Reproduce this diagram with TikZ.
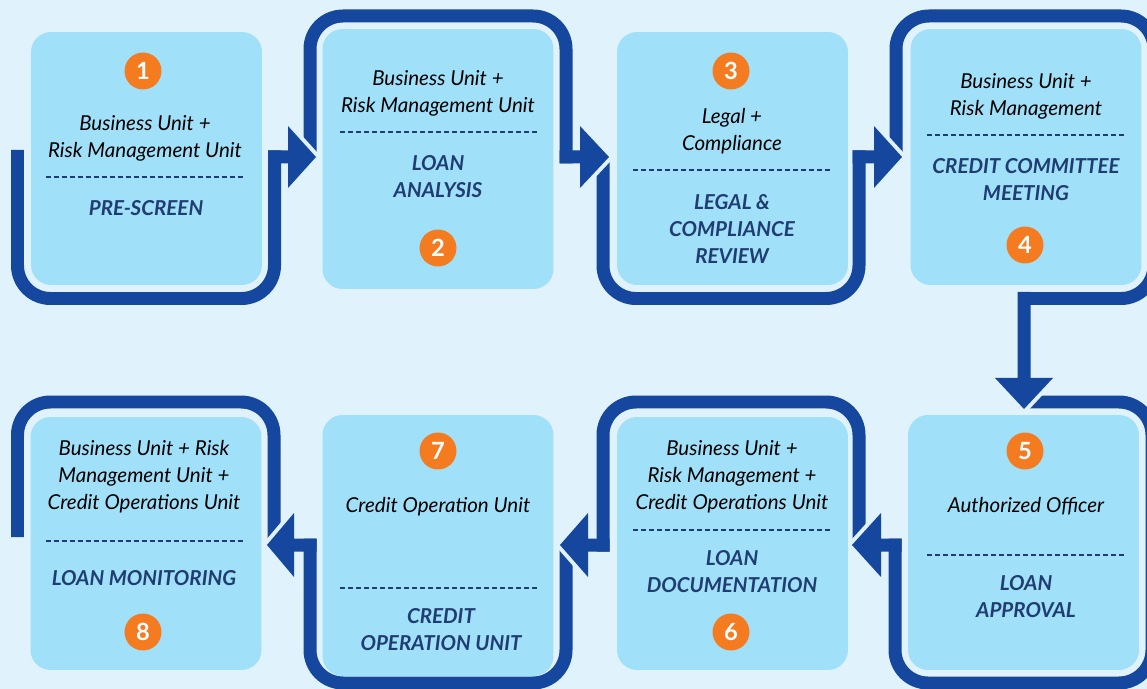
\documentclass[tikz,border=0pt]{standalone}
\usepackage{fontspec}
\setmainfont{Lato}
\usepackage{xcolor}
\usepackage{tikz}
\usetikzlibrary{calc}
\definecolor{bgblue}{HTML}{E0F2FC}
\definecolor{boxblue}{HTML}{A1E0F9}
\definecolor{framblue}{HTML}{15479E}
\definecolor{labblue}{HTML}{1F3D72}
\definecolor{numorange}{HTML}{F47B20}

\begin{document}
\begin{tikzpicture}[x=0.02cm,y=-0.02cm,
	box/.style={fill=boxblue,rounded corners=0.4cm,minimum width=4.62cm,minimum height=5.06cm,inner sep=0pt},
	frame/.style={draw=framblue,line width=0.26cm,rounded corners=0.66cm},
	gap/.style={draw=bgblue,line width=0.16cm,line join=round},
	head/.style={fill=framblue},
	who/.style={align=center,font=\itshape\fontsize{11.7}{15.3}\selectfont},
	what/.style={align=center,text=labblue,font=\bfseries\itshape\fontsize{11.7}{15.3}\selectfont},
	sep/.style={draw=labblue,line width=0.04cm,dash pattern=on 0.1cm off 0.06cm},
	num/.style={circle,fill=numorange,text=white,minimum size=0.74cm,inner sep=0pt,font=\bfseries\fontsize{13.5}{14}\selectfont}]
	\path[use as bounding box] (0,0) rectangle (1147,689);
	\clip (0,0) rectangle (1147,689);
	\fill[bgblue] (0,0) rectangle (1147,689);
	% boxes
	\node[box] (b1) at (146.5,158.5) {};
	\node[box,minimum height=5.2cm] (b2) at (438,159) {};
	\node[box] (b3) at (732.5,158.5) {};
	\node[box,minimum height=5.12cm] (b4) at (1026,157) {};
	\node[box,minimum height=5.1cm] (b5) at (1023.5,542.5) {};
	\node[box] (b6) at (732.5,543.5) {};
	\node[box,minimum height=5.22cm] (b7) at (438,545.5) {};
	\node[box] (b8) at (146,543.5) {};
	% frames
	\draw[frame] (17.5,150) -- (17.5,298.5) -- (274.5,298.5) -- (274.5,150.5);
	\draw[frame] (310,157) -- (310,16) -- (566,16) -- (566,163.5);
	\draw[frame] (603,157) -- (603,298.5) -- (859,298.5) -- (859,150.5);
	\draw[frame] (896,157) -- (896,16) -- (1154,16) -- (1154,298.5) -- (1024,298.5);
	\draw[frame] (1024,402) -- (1152,402) -- (1152,683) -- (895,683) -- (895,538.5);
	\draw[frame] (859,545) -- (859,402) -- (603,402) -- (603,551.5);
	\draw[frame] (566,545) -- (566,683) -- (310,683) -- (310,538.5);
	\draw[frame] (274,545) -- (274,402) -- (17.5,402) -- (17.5,537);
	% gaps round the heads
	\draw[gap] (288,126) -- (316,157) -- (288,188);
	\draw[gap] (580,126) -- (609,157) -- (580,188);
	\draw[gap] (874,126) -- (902,157) -- (874,188);
	\draw[gap] (1053,378) -- (1024,409) -- (995,378);
	\draw[gap] (881,513) -- (852,545) -- (881,577);
	\draw[gap] (588,513) -- (560,545) -- (588,577);
	\draw[gap] (294,513) -- (267,545) -- (294,577);
	% heads
	\fill[head] (268,150.5) -- (288,150.5) -- (288,126) -- (316,157) -- (288,188) -- (288,163.5) -- (268,163.5) -- cycle;
	\fill[head] (559.5,150.5) -- (580,150.5) -- (580,126) -- (609,157) -- (580,188) -- (580,163.5) -- (559.5,163.5) -- cycle;
	\fill[head] (852.5,150.5) -- (874,150.5) -- (874,126) -- (902,157) -- (874,188) -- (874,163.5) -- (852.5,163.5) -- cycle;
	\fill[head] (1017.5,292) -- (1030.5,292) -- (1030.5,378) -- (1053,378) -- (1024,409) -- (995,378) -- (1017.5,378) -- cycle;
	\fill[head] (901.5,538.5) -- (881,538.5) -- (881,513) -- (852,545) -- (881,577) -- (881,551.5) -- (901.5,551.5) -- cycle;
	\fill[head] (609.5,538.5) -- (588,538.5) -- (588,513) -- (560,545) -- (588,577) -- (588,551.5) -- (609.5,551.5) -- cycle;
	\fill[head] (316.5,538.5) -- (294,538.5) -- (294,513) -- (267,545) -- (294,577) -- (294,551.5) -- (316.5,551.5) -- cycle;
	% step 1
	\node[num] (n1) at (143,71) {1};
	\node[who] (w1) at (145,138) {Business Unit +\\Risk Management Unit};
	\draw[sep] (46,177) -- (244,177);
	\node[what] (t1) at (146,208.5) {PRE-SCREEN};
	% step 2
	\node[who] (w2) at (438,93) {Business Unit +\\Risk Management Unit};
	\draw[sep] (340,132) -- (538,132);
	\node[what] (t2) at (438,177) {LOAN\\ANALYSIS};
	\node[num] (n2) at (438,248) {2};
	% step 3
	\node[num] (n3) at (731,71) {3};
	\node[who] (w3) at (732,131) {Legal +\\Compliance};
	\draw[sep] (633,170) -- (831,170);
	\node[what] (t3) at (732,229) {LEGAL \&\\COMPLIANCE\\REVIEW};
	% step 4
	\node[who] (w4) at (1026,96) {Business Unit +\\Risk Management};
	\draw[sep] (927,135) -- (1125,135);
	\node[what] (t4) at (1026,180) {CREDIT COMMITTEE\\MEETING};
	\node[num] (n4) at (1025,245) {4};
	% step 5
	\node[num] (n5) at (1025,451) {5};
	\node[who] (w5) at (1026,506.5) {Authorized Officer};
	\draw[sep] (927,555) -- (1125,555);
	\node[what] (t5) at (1026,597) {LOAN\\APPROVAL};
	% step 6
	\node[who] (w6) at (732,476.5) {Business Unit +\\Risk Management +\\Credit Operations Unit};
	\draw[sep] (633,530) -- (831,530);
	\node[what] (t6) at (732,572) {LOAN\\DOCUMENTATION};
	\node[num] (n6) at (731,632) {6};
	% step 7
	\node[num] (n7) at (438,451) {7};
	\node[who] (w7) at (438,506.5) {Credit Operation Unit};
	\draw[sep] (340,588) -- (538,588);
	\node[what] (t7) at (441,629.5) {CREDIT\\OPERATION UNIT};
	% step 8
	\node[who] (w8) at (144,476.5) {Business Unit + Risk\\Management Unit +\\Credit Operations Unit};
	\draw[sep] (46,541) -- (244,541);
	\node[what] (t8) at (144,578.5) {LOAN MONITORING};
	\node[num] (n8) at (143,632) {8};
\end{tikzpicture}
\end{document}
